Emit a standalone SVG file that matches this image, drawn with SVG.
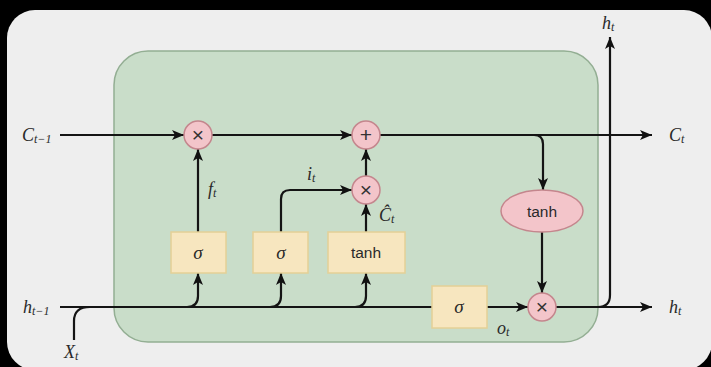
<svg xmlns="http://www.w3.org/2000/svg" width="711" height="367" viewBox="0 0 711 367">
<style>
.ln{fill:none;stroke:#141414;stroke-width:2.2}
.ar{marker-end:url(#ah)}
.op{fill:#f3c5ca;stroke:#c4868d;stroke-width:1.5}
.gate{fill:#f7e6bf;stroke:#e4d096;stroke-width:1.5}
.sym{font-family:"Liberation Sans",Arial,sans-serif;font-size:21px;fill:#333;text-anchor:middle}
.fn{font-family:"Liberation Sans",Arial,sans-serif;font-size:15.5px;fill:#2a2a2a;text-anchor:middle}
.sg{font-family:"Liberation Serif","Times New Roman",serif;font-style:italic;font-size:19px;fill:#2a2a2a;text-anchor:middle}
.m{font-family:"Liberation Serif","Times New Roman",serif;font-style:italic;font-size:18px;fill:#2a2a2a}
.s{font-size:12px}
</style>
<defs>
<marker id="ah" markerUnits="userSpaceOnUse" markerWidth="14" markerHeight="14" refX="12" refY="7" orient="auto">
<path d="M0,2 L12,7 L0,12 L3,7 z" fill="#111"/>
</marker>
</defs>
<rect x="0" y="0" width="711" height="367" fill="#000"/>
<rect id="panel" x="7" y="10" width="705" height="360" rx="28" fill="#eeeeee"/>
<rect id="cell" x="114" y="51" width="484" height="291" rx="34" fill="#c9ddc9" stroke="#93ae93" stroke-width="1.5"/>

<g id="connectors">
<path class="ln ar" d="M60,135 H184"/>
<path class="ln ar" d="M212,135 H352"/>
<path class="ln ar" d="M380,135 H652"/>
<path class="ln ar" d="M534,135 Q543,135 543,144 V190"/>
<path class="ln ar" d="M542,232 V293"/>
<path class="ln ar" d="M198,232 V149"/>
<path class="ln ar" d="M281,232 V199 Q281,190 290,190 H352"/>
<path class="ln ar" d="M366,232 V204"/>
<path class="ln ar" d="M366,176 V149"/>
<path class="ln" d="M60,307 H432"/>
<path class="ln ar" d="M487,307 H528"/>
<path class="ln ar" d="M556,307 H652"/>
<path class="ln ar" d="M598,307 Q610,307 610,295 V37"/>
<path class="ln" d="M74,340 V321 Q74,307 90,307"/>
<path class="ln ar" d="M187,307 Q198,307 198,296 V273"/>
<path class="ln ar" d="M270,307 Q281,307 281,296 V273"/>
<path class="ln ar" d="M355,307 Q366,307 366,296 V273"/>
</g>

<g id="mul_forget"><circle class="op" cx="198" cy="135" r="14"/><text class="sym" x="198" y="142">×</text></g>
<g id="add_cell"><circle class="op" cx="366" cy="135" r="14"/><text class="sym" x="366" y="142">+</text></g>
<g id="mul_input"><circle class="op" cx="366" cy="190" r="14"/><text class="sym" x="366" y="197">×</text></g>
<g id="mul_output"><circle class="op" cx="542" cy="307" r="14"/><text class="sym" x="542" y="314">×</text></g>
<g id="tanh_out"><ellipse class="op" cx="542" cy="211" rx="41" ry="21"/><text class="fn" x="542" y="216.5">tanh</text></g>

<g id="sigma_forget"><rect class="gate" x="171" y="232" width="55" height="41"/><text class="sg" x="198" y="258.5">σ</text></g>
<g id="sigma_input"><rect class="gate" x="253" y="232" width="55" height="41"/><text class="sg" x="281" y="258.5">σ</text></g>
<g id="tanh_cand"><rect class="gate" x="328" y="232" width="77" height="41"/><text class="fn" x="366" y="258">tanh</text></g>
<g id="sigma_output"><rect class="gate" x="432" y="286" width="55" height="42"/><text class="sg" x="459" y="312.5">σ</text></g>

<g id="labels">
<text class="m" x="22" y="141">C<tspan class="s" dy="2">t−1</tspan></text>
<text class="m" x="23" y="313">h<tspan class="s" dy="2">t−1</tspan></text>
<text class="m" x="64" y="358">X<tspan class="s" dy="2">t</tspan></text>
<text class="m" x="669" y="141">C<tspan class="s" dy="2">t</tspan></text>
<text class="m" x="669" y="313">h<tspan class="s" dy="2">t</tspan></text>
<text class="m" x="602" y="29">h<tspan class="s" dy="2">t</tspan></text>
<text class="m" x="208" y="195">f<tspan class="s" dy="2">t</tspan></text>
<text class="m" x="307" y="180">i<tspan class="s" dy="2">t</tspan></text>
<text class="m" x="379" y="221">Ĉ<tspan class="s" dy="2">t</tspan></text>
<text class="m" x="497" y="334">o<tspan class="s" dy="2">t</tspan></text>
</g>
</svg>
